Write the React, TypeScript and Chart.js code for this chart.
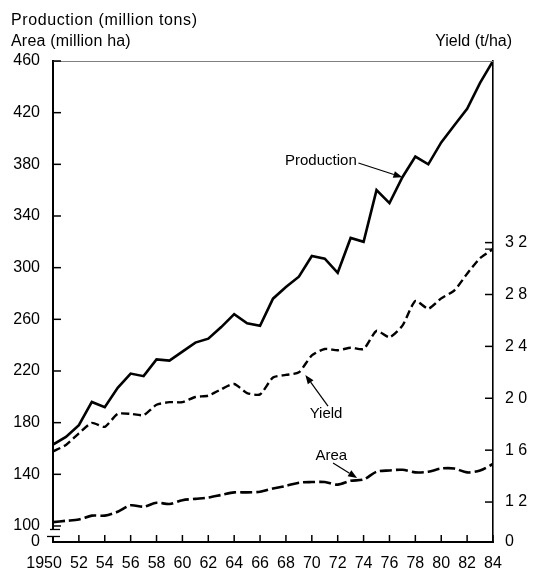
import React, { useEffect, useRef } from "react";
import { Chart, registerables } from "chart.js";

Chart.register(...registerables);

// ---- data ----
const years = [
  1950, 1951, 1952, 1953, 1954, 1955, 1956, 1957, 1958, 1959,
  1960, 1961, 1962, 1963, 1964, 1965, 1966, 1967, 1968, 1969,
  1970, 1971, 1972, 1973, 1974, 1975, 1976, 1977, 1978, 1979,
  1980, 1981, 1982, 1983, 1984,
];
const production = [
  163, 169, 178, 196, 192, 207, 218, 216, 229, 228,
  235, 242, 245, 254, 264, 257, 255, 276, 285, 293,
  309, 307, 296, 323, 320, 360, 350, 370, 386, 380,
  397, 410, 423, 443, 460,
];
const yieldValues = [
  1.59, 1.64, 1.73, 1.81, 1.78, 1.88, 1.88, 1.87, 1.95, 1.97,
  1.97, 2.01, 2.02, 2.07, 2.11, 2.04, 2.03, 2.16, 2.18, 2.2,
  2.33, 2.38, 2.37, 2.39, 2.38, 2.52, 2.47, 2.56, 2.75, 2.69,
  2.77, 2.83, 2.96, 3.08, 3.15,
];
const area = [
  103, 104, 105, 108, 108, 111, 116, 115, 118, 117,
  120, 121, 122, 124, 126, 126, 126.5, 129, 131, 133.5,
  134, 134, 132, 135, 136, 142, 143, 143.5, 141.5, 142,
  144.5, 144.5, 141.5, 143, 148,
];
const xTickYears = [
  1950, 1952, 1954, 1956, 1958, 1960, 1962, 1964, 1966, 1968,
  1970, 1972, 1974, 1976, 1978, 1980, 1982, 1984,
];
const leftTickValues = [100, 140, 180, 220, 260, 300, 340, 380, 420, 460];
const rightTickValues = [1.2, 1.6, 2.0, 2.4, 2.8, 3.2];
const breakLabel = "0";
const leftMin = 87.6;
const leftMax = 460;
const rightMin = 0.892;
const rightMax = 4.6;

const titleLeft1 = "Production (million tons)";
const titleLeft2 = "Area (million ha)";
const titleRight = "Yield (t/ha)";

const annotations = [
  { text: "Production", axis: "y", tx: 1970.7, ty: 382.6, sx: 1973.6, sy: 381.0, ex: 1977, ey: 370 },
  { text: "Yield", axis: "y2", tx: 1971.1, ty: 1.88, sx: 1971.25, sy: 1.94, ex: 1969.5, ey: 2.18 },
  { text: "Area", axis: "y", tx: 1971.5, ty: 154.2, sx: 1971.64, sy: 148.8, ex: 1973.5, ey: 137.1 },
];

const FONT = "'Liberation Sans', Arial, Helvetica, sans-serif";

function line(ctx: CanvasRenderingContext2D, x1: number, y1: number, x2: number, y2: number) {
  ctx.beginPath();
  ctx.moveTo(x1, y1);
  ctx.lineTo(x2, y2);
  ctx.stroke();
}

const overlayPlugin = {
  id: "overlay",
  afterDraw(chart: any) {
    const { ctx, chartArea: a, scales } = chart;
    const xs = scales.x;
    const ys = scales.y;
    const y2s = scales.y2;
    ctx.save();
    // top border
    ctx.strokeStyle = "#808080";
    ctx.lineWidth = 1;
    line(ctx, a.left, a.top + 0.5, a.right, a.top + 0.5);

    // inward ticks
    ctx.strokeStyle = "#000";
    ctx.lineWidth = 1.5;
    xTickYears.forEach((v) => {
      const px = xs.getPixelForValue(v);
      line(ctx, px, a.bottom, px, a.bottom - 7);
    });
    leftTickValues.forEach((v) => {
      const py = ys.getPixelForValue(v);
      line(ctx, a.left, py, a.left + 8, py);
    });
    rightTickValues.forEach((v) => {
      const py = y2s.getPixelForValue(v);
      line(ctx, a.right, py, a.right - 8, py);
    });

    // axis break on left axis
    const p100 = ys.getPixelForValue(leftTickValues[0]);
    ctx.fillStyle = "#fff";
    ctx.fillRect(a.left - 2, p100 + 4, 4, 6);
    ctx.lineWidth = 1.3;
    line(ctx, a.left - 3, p100 + 3.5, a.left + 7, p100 + 3.5);
    line(ctx, a.left - 6, p100 + 10.5, a.left + 7, p100 + 10.5);
    // break mark on right axis
    const p32 = y2s.getPixelForValue(rightTickValues[rightTickValues.length - 1]);
    line(ctx, a.right - 8, p32 + 6.5, a.right, p32 + 6.5);

    // annotations with arrows
    ctx.font = `15px ${FONT}`;
    ctx.fillStyle = "#000";
    ctx.textAlign = "center";
    ctx.textBaseline = "middle";
    annotations.forEach((an) => {
      const sc = an.axis === "y2" ? y2s : ys;
      const tx = xs.getPixelForValue(an.tx);
      const ty = sc.getPixelForValue(an.ty);
      ctx.fillText(an.text, tx, ty);
      const sx = xs.getPixelForValue(an.sx);
      const sy = sc.getPixelForValue(an.sy);
      const ex = xs.getPixelForValue(an.ex);
      const ey = sc.getPixelForValue(an.ey);
      const ang = Math.atan2(ey - sy, ex - sx);
      const hl = 9;
      const hw = 3.5;
      const bx = ex - hl * Math.cos(ang);
      const by = ey - hl * Math.sin(ang);
      ctx.lineWidth = 1.2;
      line(ctx, sx, sy, bx, by);
      ctx.beginPath();
      ctx.moveTo(ex, ey);
      ctx.lineTo(bx + hw * Math.sin(ang), by - hw * Math.cos(ang));
      ctx.lineTo(bx - hw * Math.sin(ang), by + hw * Math.cos(ang));
      ctx.closePath();
      ctx.fill();
    });

    // axis titles
    ctx.font = `16px ${FONT}`;
    ctx.textAlign = "left";
    (ctx as any).letterSpacing = "0.6px";
    ctx.fillText(titleLeft1, 11, 21);
    (ctx as any).letterSpacing = "0.2px";
    ctx.fillText(titleLeft2, 11, 42);
    (ctx as any).letterSpacing = "0px";
    ctx.textAlign = "right";
    ctx.fillText(titleRight, 512, 42);
    ctx.restore();
  },
};

export default function App() {
  const canvasRef = useRef<HTMLCanvasElement | null>(null);

  useEffect(() => {
    const canvas = canvasRef.current;
    if (!canvas) return;
    Chart.defaults.font.family = FONT;
    Chart.defaults.color = "#000";
    const mk = (vals: number[]) => years.map((yr, i) => ({ x: yr, y: vals[i] }));
    const chart = new Chart(canvas, {
      type: "line",
      data: {
        datasets: [
          {
            label: "Production",
            data: mk(production),
            yAxisID: "y",
            borderColor: "#000",
            borderWidth: 2.6,
            pointRadius: 0,
            tension: 0,
            fill: false,
          },
          {
            label: "Yield",
            data: mk(yieldValues),
            yAxisID: "y2",
            borderColor: "#000",
            borderWidth: 2.4,
            borderDash: [8, 4],
            pointRadius: 0,
            tension: 0.2,
            fill: false,
          },
          {
            label: "Area",
            data: mk(area),
            yAxisID: "y",
            borderColor: "#000",
            borderWidth: 2.6,
            borderDash: [12, 4],
            pointRadius: 0,
            tension: 0.3,
            fill: false,
          },
        ],
      },
      options: {
        animation: false,
        responsive: false,
        devicePixelRatio: 1,
        layout: { padding: { top: 61, left: 0, right: 0, bottom: 0 } },
        plugins: { legend: { display: false }, tooltip: { enabled: false } },
        scales: {
          x: {
            type: "linear",
            min: 1950,
            max: 1984,
            afterBuildTicks: (s: any) => {
              s.ticks = xTickYears.map((v) => ({ value: v }));
            },
            afterFit: (s: any) => {
              s.height = 39;
            },
            grid: { drawOnChartArea: false, drawTicks: false },
            border: { display: true, color: "#000", width: 2 },
            ticks: {
              autoSkip: false,
              maxRotation: 0,
              padding: 12,
              font: { size: 16 },
              color: "#000",
              callback: (v: any) => (v === years[0] ? String(v) + "    " : String(v).slice(2)),
            },
          },
          y: {
            type: "linear",
            position: "left",
            min: leftMin,
            max: leftMax,
            afterBuildTicks: (s: any) => {
              s.ticks = [{ value: leftMin }, ...leftTickValues.map((v) => ({ value: v }))];
            },
            afterFit: (s: any) => {
              s.width = 53;
            },
            grid: { drawOnChartArea: false, drawTicks: false },
            border: { display: true, color: "#000", width: 2 },
            ticks: {
              autoSkip: false,
              padding: 13,
              font: { size: 16 },
              color: "#000",
              callback: (v: any) => (v < leftTickValues[0] ? breakLabel : String(v)),
            },
          },
          y2: {
            type: "linear",
            position: "right",
            min: rightMin,
            max: rightMax,
            afterBuildTicks: (s: any) => {
              s.ticks = [{ value: rightMin }, ...rightTickValues.map((v) => ({ value: v }))];
            },
            afterFit: (s: any) => {
              s.width = 40;
            },
            grid: { drawOnChartArea: false, drawTicks: false },
            border: { display: true, color: "#000", width: 1.6 },
            ticks: {
              autoSkip: false,
              padding: 12,
              font: { size: 16 },
              color: "#000",
              callback: (v: any) =>
                v < rightTickValues[0] ? breakLabel : Number(v).toFixed(1).replace(".", " "),
            },
          },
        },
      },
      plugins: [overlayPlugin],
    });
    return () => chart.destroy();
  }, []);

  return (
    <div style={{ position: "fixed", left: 0, top: 0, width: 533, height: 581, background: "#fff" }}>
      <canvas ref={canvasRef} width={533} height={581} style={{ width: 533, height: 581, display: "block" }} />
    </div>
  );
}
